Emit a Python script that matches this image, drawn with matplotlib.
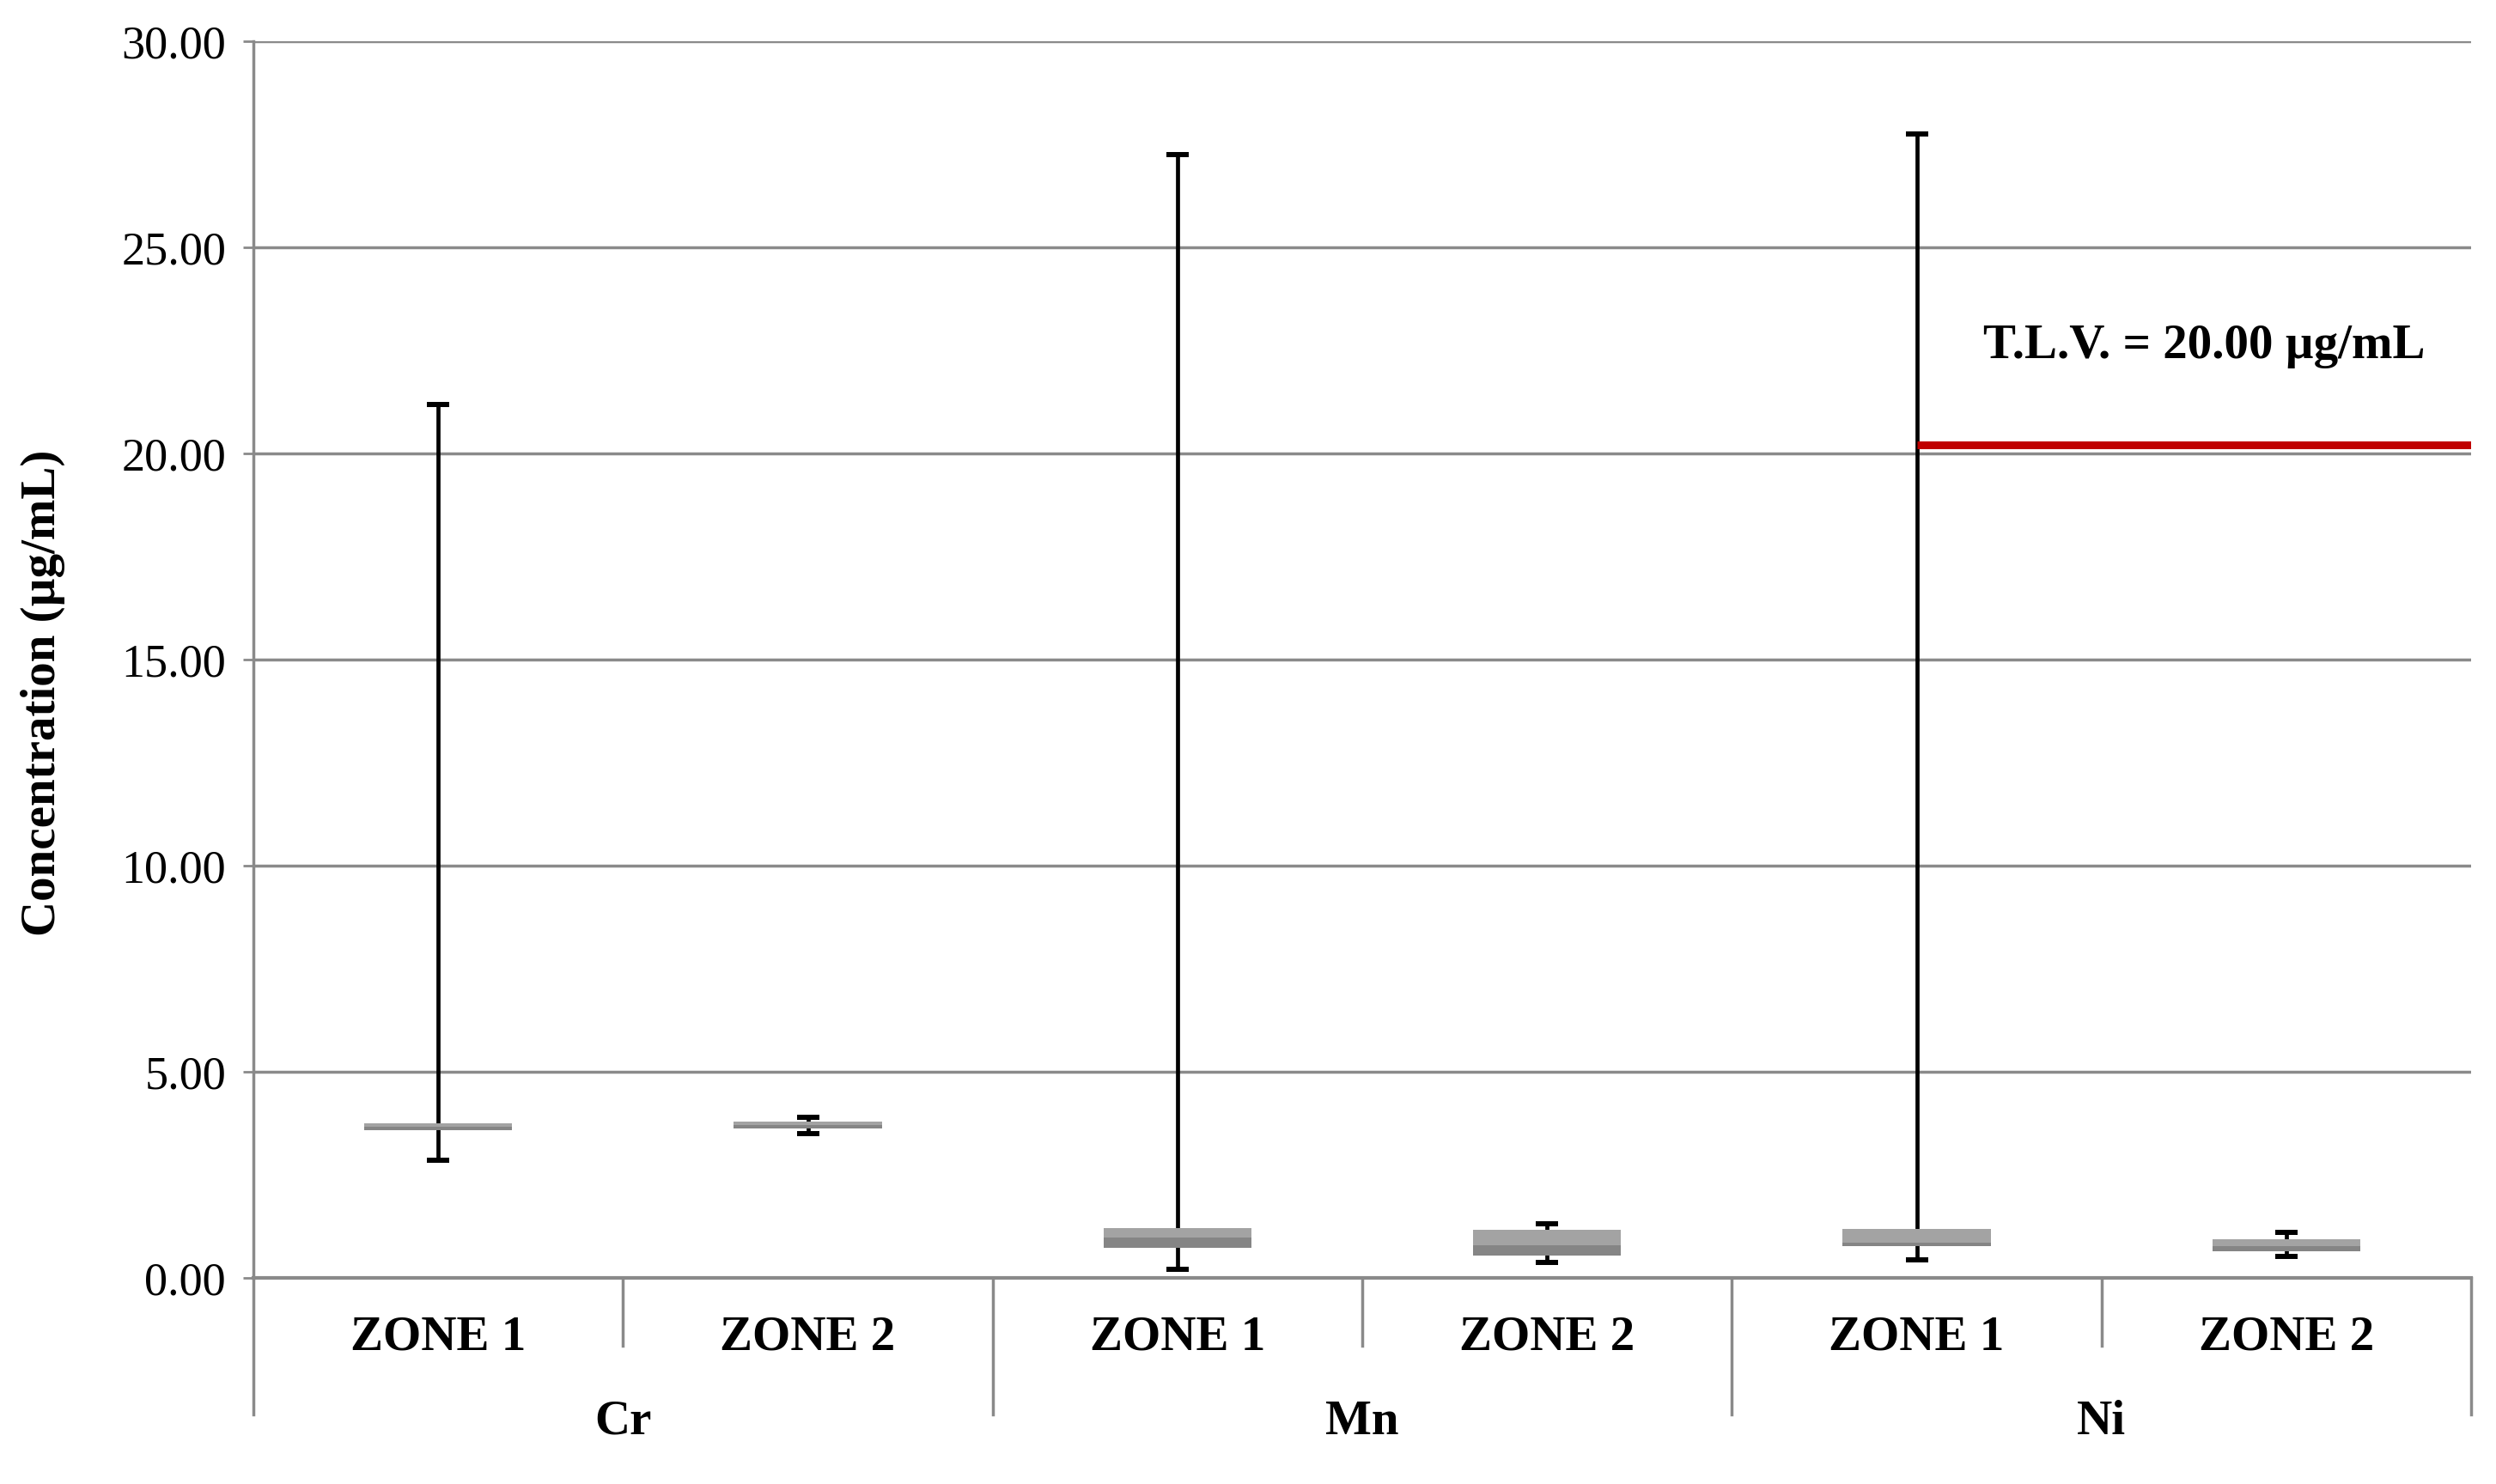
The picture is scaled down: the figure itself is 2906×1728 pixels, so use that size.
import matplotlib
matplotlib.use("Agg")
import matplotlib.pyplot as plt
import matplotlib.transforms as mtransforms

plt.rcParams['font.family'] = ['Liberation Serif', 'DejaVu Serif']

# ---- data ----
groups = ["Cr", "Mn", "Ni"]
zones = ["ZONE 1", "ZONE 2"]
whisker_min = [2.85, 3.50, 0.21, 0.37, 0.44, 0.53]
q1 = [3.58, 3.63, 0.73, 0.54, 0.78, 0.65]
median = [3.66, 3.71, 0.97, 0.79, 0.86, 0.78]
q3 = [3.74, 3.79, 1.21, 1.16, 1.19, 0.93]
whisker_max = [21.19, 3.90, 27.25, 1.31, 27.76, 1.10]
tlv_value = 20.2
tlv_label = "T.L.V. = 20.00 µg/mL"
yticks = [0, 5, 10, 15, 20, 25, 30]

W, H = 2906, 1728
fig = plt.figure(figsize=(W / 100, H / 100), dpi=100)
left_px, right_px, top_px, bottom_px = 295, 2877, 48, 1488
ax = fig.add_axes([left_px / W, 1 - bottom_px / H,
                   (right_px - left_px) / W, (bottom_px - top_px) / H])

n = len(q1)
xs = [i + 0.5 for i in range(n)]
grid_c = '#8a8a8a'
bold_fs = 41

ax.set_xlim(0, n)
ax.set_ylim(0, 30)
ax.set_yticks(yticks)
ax.set_yticklabels([f"{v:.2f}" for v in yticks], fontsize=39)
ax.yaxis.grid(True, color=grid_c, linewidth=2.5, zorder=0)
ax.set_axisbelow(True)
ax.tick_params(axis='y', direction='out', length=9, width=2, color=grid_c, pad=14)
ax.set_xticks([])
for s in ['top', 'right']:
    ax.spines[s].set_visible(False)
ax.spines['left'].set_color(grid_c)
ax.spines['left'].set_linewidth(2.5)
ax.spines['bottom'].set_color(grid_c)
ax.spines['bottom'].set_linewidth(3)

# whiskers
lower = [m - lo for m, lo in zip(median, whisker_min)]
upper = [hi - m for m, hi in zip(median, whisker_max)]
ax.errorbar(xs, median, yerr=[lower, upper], fmt='none', ecolor='black',
            elinewidth=3.4, capsize=9.5, capthick=4.3, zorder=2)

# boxes
bw = 0.4
ax.bar(xs, [m - a for m, a in zip(median, q1)], bottom=q1, width=bw,
       color='#858585', zorder=3, linewidth=0)
ax.bar(xs, [b - m for m, b in zip(median, q3)], bottom=median, width=bw,
       color='#a3a3a3', zorder=3, linewidth=0)

# TLV line and label
ax.plot([4.5, n], [tlv_value, tlv_value], color='#c00000', linewidth=6.5,
        zorder=4, solid_capstyle='butt')
ax.text(4.68, 22.6, tlv_label, fontsize=bold_fs, fontweight='bold', va='center', ha='left')

# category axis (two-level)
trans = mtransforms.blended_transform_factory(ax.transData, ax.transAxes)
ah = bottom_px - top_px
zone_sep_y = -(1567 - bottom_px) / ah
group_sep_y = -(1647 - bottom_px) / ah
zone_lab_y = -(1557 - bottom_px) / ah
group_lab_y = -(1656 - bottom_px) / ah
for g in range(len(groups) + 1):
    ax.plot([2 * g, 2 * g], [0, group_sep_y], transform=trans, color=grid_c,
            linewidth=2.5, clip_on=False)
for g in range(len(groups)):
    ax.plot([2 * g + 1, 2 * g + 1], [0, zone_sep_y], transform=trans, color=grid_c,
            linewidth=2.5, clip_on=False)
    ax.text(2 * g + 1, group_lab_y, groups[g], transform=trans, fontsize=bold_fs,
            fontweight='bold', ha='center', va='center')
    for z in range(len(zones)):
        ax.text(2 * g + z + 0.5, zone_lab_y, zones[z], transform=trans, fontsize=bold_fs,
                fontweight='bold', ha='center', va='center')

fig.text(50 / W, 1 - 807 / H, "Concentration (µg/mL)", rotation=90, fontsize=bold_fs,
         fontweight='bold', ha='center', va='center')

fig.savefig("out.png", dpi=100, facecolor='white')
